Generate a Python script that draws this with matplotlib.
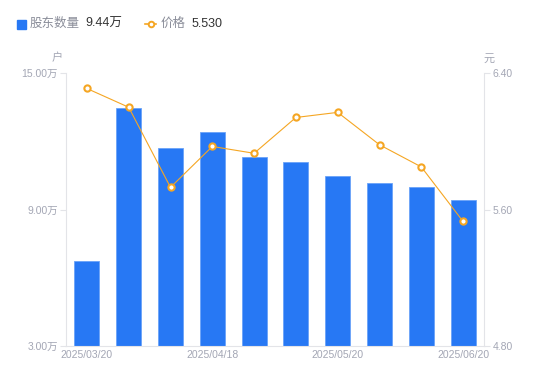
import matplotlib
matplotlib.use("Agg")
from matplotlib import pyplot as plt
from matplotlib.lines import Line2D
from matplotlib.patches import Rectangle

plt.rcParams['font.family'] = ['Liberation Sans', 'Noto Sans CJK SC', 'DejaVu Sans']

dates = ["2025/03/20", "2025/03/31", "2025/04/10", "2025/04/18", "2025/04/30",
         "2025/05/09", "2025/05/20", "2025/05/30", "2025/06/10", "2025/06/20"]
holders = [6.74, 13.46, 11.70, 12.41, 11.31, 11.09, 10.47, 10.16, 9.99, 9.44]  # 万户
price = [6.31, 6.20, 5.73, 5.97, 5.93, 6.14, 6.17, 5.98, 5.85, 5.53]

BLUE = "#2778f4"
ORANGE = "#f5a623"
GRAY = "#a3a6b4"
AXIS = "#e3e4e8"

fig = plt.figure(figsize=(5.5, 3.81), dpi=100)
ax = fig.add_axes([0.12, 0.092, 0.76, 0.716])
ax2 = ax.twinx()

x = list(range(len(dates)))
ax.bar(x, holders, width=0.6, color=BLUE, edgecolor="#6aa3f8", linewidth=0.6, zorder=2)
ax.set_ylim(3, 15)
ax.set_yticks([3, 9, 15])
ax.set_yticklabels([f"{v:.2f}万" for v in [3, 9, 15]])
ax.set_xlim(-0.5, len(dates) - 0.5)
ax.set_xticks([0, 3, 6, 9])
ax.set_xticklabels([dates[i] for i in [0, 3, 6, 9]])

ax2.plot(x, price, color=ORANGE, linewidth=0.8, marker="o", markersize=4.5,
         markerfacecolor="white", markeredgecolor=ORANGE, markeredgewidth=1.5, zorder=3)
ax2.set_ylim(4.8, 6.4)
ax2.set_yticks([4.8, 5.6, 6.4])
ax2.set_yticklabels([f"{v:.2f}" for v in [4.8, 5.6, 6.4]])

for a in (ax, ax2):
    for s in a.spines.values():
        s.set_visible(False)
    a.tick_params(colors=GRAY, labelsize=7.5, length=4, width=0.8, color=AXIS, pad=2)
ax.spines['left'].set_visible(True)
ax.spines['left'].set_color(AXIS)
ax2.spines['right'].set_visible(True)
ax2.spines['right'].set_color(AXIS)
ax.spines['bottom'].set_visible(True)
ax.spines['bottom'].set_color(AXIS)
ax.tick_params(axis='x', length=0, pad=3)

ax.text(-0.02, 1.035, "户", transform=ax.transAxes, ha="center", va="bottom",
        color=GRAY, fontsize=8)
ax2.text(1.0, 1.035, "元", transform=ax2.transAxes, ha="left", va="bottom",
         color=GRAY, fontsize=8)

# legend row
fig.add_artist(Rectangle((17 / 550, 1 - 29 / 381), 9 / 550, 9 / 381,
                         transform=fig.transFigure, color=BLUE))
fig.text(30 / 550, 1 - 24 / 381, "股东数量", color="#8a8d99", fontsize=9, va="center")
fig.text(85 / 550, 1 - 24 / 381, f"{holders[-1]:.2f}万", color="#333333", fontsize=9, va="center")
fig.add_artist(Line2D([145 / 550, 156 / 550], [1 - 24 / 381, 1 - 24 / 381],
                      transform=fig.transFigure, color=ORANGE, linewidth=1.2))
fig.add_artist(Line2D([150.5 / 550], [1 - 24 / 381], transform=fig.transFigure,
                      marker="o", markersize=4, markerfacecolor="white",
                      markeredgecolor=ORANGE, markeredgewidth=1.4))
fig.text(161 / 550, 1 - 24 / 381, "价格", color="#8a8d99", fontsize=9, va="center")
fig.text(192 / 550, 1 - 24 / 381, f"{price[-1]:.3f}", color="#333333", fontsize=9, va="center")

fig.savefig("out.png", dpi=100)
